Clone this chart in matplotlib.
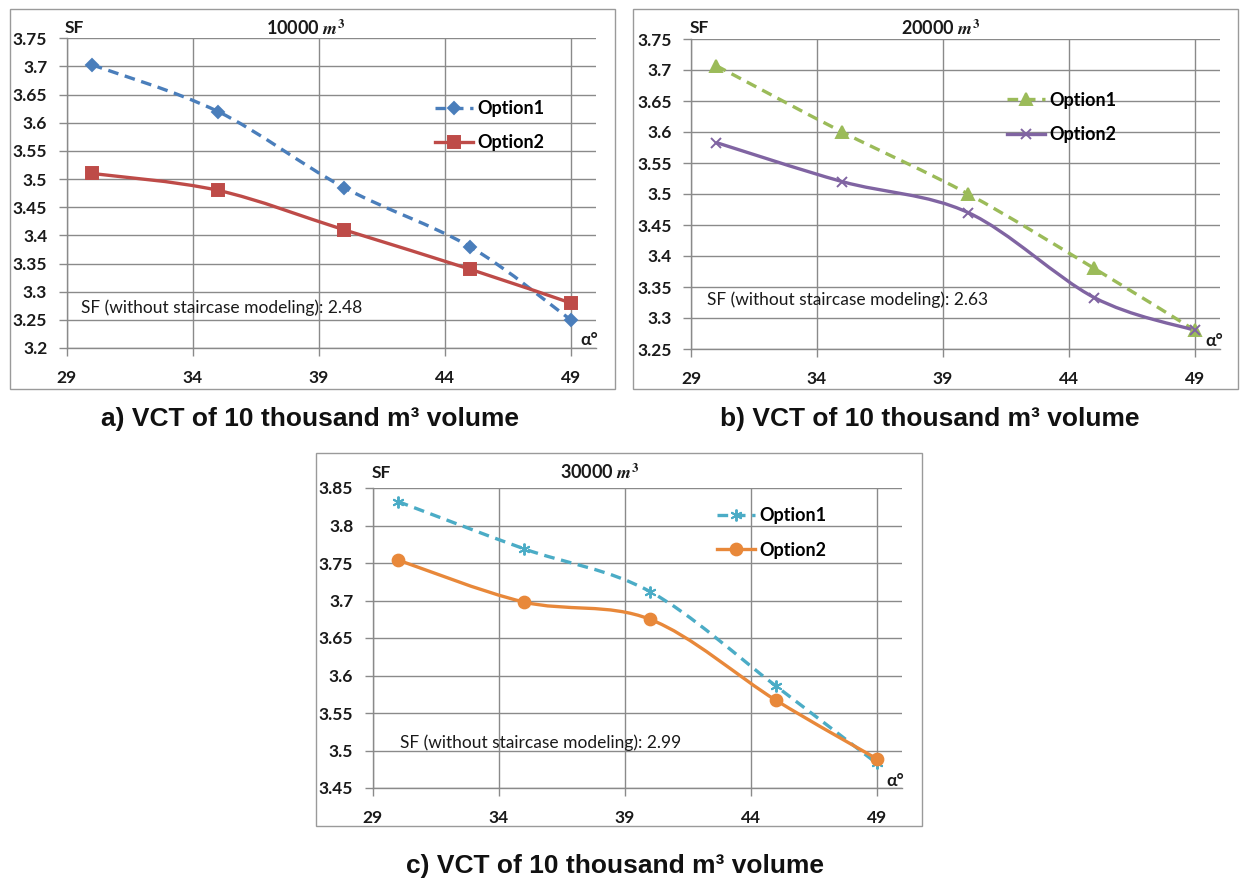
# -*- coding: utf-8 -*-
import numpy as np
import matplotlib
matplotlib.use('Agg')
import matplotlib.pyplot as plt
from matplotlib import rcParams
from matplotlib.path import Path
from matplotlib.patches import PathPatch, Rectangle
from matplotlib.lines import Line2D

rcParams['font.family'] = ['Lato', 'DejaVu Sans']
rcParams['font.weight'] = 'bold'
rcParams['mathtext.fontset'] = 'stix'

# data
alpha = [30, 35, 40, 45, 49]
x_ticks = [29, 34, 39, 44, 49]

sf_10k_opt1 = [3.703, 3.620, 3.485, 3.380, 3.250]
sf_10k_opt2 = [3.510, 3.480, 3.410, 3.340, 3.280]
sf_20k_opt1 = [3.707, 3.600, 3.500, 3.380, 3.280]
sf_20k_opt2 = [3.583, 3.520, 3.470, 3.333, 3.280]
sf_30k_opt1 = [3.832, 3.769, 3.712, 3.586, 3.483]
sf_30k_opt2 = [3.754, 3.698, 3.675, 3.567, 3.489]

y_ticks_10k = [3.2, 3.25, 3.3, 3.35, 3.4, 3.45, 3.5, 3.55, 3.6, 3.65, 3.7, 3.75]
y_ticks_20k = [3.25, 3.3, 3.35, 3.4, 3.45, 3.5, 3.55, 3.6, 3.65, 3.7, 3.75]
y_ticks_30k = [3.45, 3.5, 3.55, 3.6, 3.65, 3.7, 3.75, 3.8, 3.85]

no_stair_sf = ['2.48', '2.63', '2.99']
volumes = ['10000', '20000', '30000']
captions = ['a) VCT of 10 thousand m\u00b3 volume',
            'b) VCT of 10 thousand m\u00b3 volume',
            'c) VCT of 10 thousand m\u00b3 volume']

W, H = 1242, 881
GRID = '#8a8a8a'
TXT = '#1a1a1a'
DASH = (0, (3.2, 2.0))


def smooth_path(xs, ys):
    """Excel-like smoothed line: bezier segments through every point"""
    pts = np.column_stack([xs, ys]).astype(float)
    n = len(pts)
    verts = [pts[0]]
    codes = [Path.MOVETO]
    for i in range(n - 1):
        p0 = pts[max(i - 1, 0)]
        p1 = pts[i]
        p2 = pts[i + 1]
        p3 = pts[min(i + 2, n - 1)]
        verts += [p1 + (p2 - p0) / 6.0, p2 - (p3 - p1) / 6.0, p2]
        codes += [Path.CURVE4] * 3
    return Path(verts, codes)


def fig_box(x0, y0, x1, y1):
    # pixel box (top-left origin) -> figure fraction rect
    return [x0 / W, 1 - y1 / H, (x1 - x0) / W, (y1 - y0) / H]


def draw_panel(fig, rect, frame, yticks, series, sf_text, leg_xy, note_xy):
    # outer frame of the excel chart
    fx0, fy0, fx1, fy1 = frame
    fig.patches.append(Rectangle((fx0 / W, 1 - fy1 / H), (fx1 - fx0) / W, (fy1 - fy0) / H,
                                 transform=fig.transFigure, fill=False,
                                 edgecolor='#9a9a9a', linewidth=1.0))

    ax = fig.add_axes(fig_box(*rect))
    ax.set_xlim(29, 50)
    ax.set_ylim(yticks[0], yticks[-1])
    ax.set_xticks(x_ticks, [str(t) for t in x_ticks])
    ax.set_yticks(yticks, [f'{t:g}' for t in yticks])
    ax.grid(True, color=GRID, linewidth=1.0)
    ax.set_axisbelow(True)
    for s in ['top', 'right']:
        ax.spines[s].set_visible(False)
    for s in ['left', 'bottom']:
        ax.spines[s].set_color(GRID)
        ax.spines[s].set_linewidth(1.0)
    ax.tick_params(axis='both', direction='out', length=6, width=1.0, color=GRID,
                   labelsize=12.5, labelcolor=TXT)
    ax.tick_params(axis='x', pad=10)
    ax.tick_params(axis='y', pad=8)

    handles = []
    for ys, color, ls, marker, ms, label in series:
        ax.add_patch(PathPatch(smooth_path(alpha, ys), fill=False, edgecolor=color,
                               linewidth=2.4, linestyle=ls, capstyle='butt', zorder=3))
        ax.plot(alpha, ys, linestyle='none', marker=marker, markersize=ms,
                color=color, markeredgecolor=color, markeredgewidth=1.4, zorder=4,
                clip_on=False)
        handles.append(Line2D([], [], color=color, linewidth=2.4, linestyle=ls,
                              marker=marker, markersize=ms, markeredgewidth=1.4,
                              label=label))

    ax.legend(handles=handles, loc='upper left', bbox_to_anchor=leg_xy, frameon=False,
              borderpad=0, borderaxespad=0, handlelength=2.1, handletextpad=0.25,
              labelspacing=0.95, prop={'size': 13, 'weight': 'bold'})

    ax.text(note_xy[0], note_xy[1], f'SF (without staircase modeling): {sf_text}',
            transform=ax.transAxes, fontsize=12.5, fontweight='normal',
            va='center', ha='left', color=TXT)

    ax.text(1.005, 0.025, '\u03b1\u00b0', transform=ax.transAxes, fontsize=12.5,
            fontweight='bold', ha='right', va='center', color=TXT)
    return ax


fig = plt.figure(figsize=(W / 100, H / 100), dpi=100)

# panel a
draw_panel(fig, (66.7, 38.3, 595.9, 348), (9.5, 9, 615, 389), y_ticks_10k,
           [(sf_10k_opt1, '#4a7ebb', DASH, 'D', 6, 'Option1'),
            (sf_10k_opt2, '#be4b48', '-', 's', 8, 'Option2')],
           no_stair_sf[0], (0.696, 0.80), (0.027, 0.13))
# panel b
draw_panel(fig, (691, 39, 1220.2, 349), (633, 9, 1238, 389), y_ticks_20k,
           [(sf_20k_opt1, '#9bbb59', DASH, '^', 8, 'Option1'),
            (sf_20k_opt2, '#8064a2', '-', 'x', 7.5, 'Option2')],
           no_stair_sf[1], (0.597, 0.83), (0.030, 0.158))
# panel c
draw_panel(fig, (372.7, 488, 901.9, 788), (316, 453, 922, 826), y_ticks_30k,
           [(sf_30k_opt1, '#4bacc6', DASH, (6, 2, 0), 8.5, 'Option1'),
            (sf_30k_opt2, '#e8883a', '-', 'o', 8.5, 'Option2')],
           no_stair_sf[2], (0.651, 0.935), (0.052, 0.15))

# titles and 'SF' labels
title_pos = [(306, 28), (941, 28), (600, 472)]
sf_pos = [(65, 28), (690, 28), (372, 473)]
for vol, (tx, ty), (sx, sy) in zip(volumes, title_pos, sf_pos):
    fig.text(tx / W, 1 - ty / H, vol + r' $m^3$', fontsize=13, fontweight='bold',
             ha='center', va='center', color=TXT)
    fig.text(sx / W, 1 - sy / H, 'SF', fontsize=12.5, fontweight='bold',
             ha='left', va='center', color=TXT)

# captions under each chart
cap_pos = [(310, 419), (930, 419), (615, 866)]
for cap, (cx, cy) in zip(captions, cap_pos):
    fig.text(cx / W, 1 - cy / H, cap, fontsize=19, fontweight='bold',
             family='Liberation Sans', ha='center', va='center', color='#111111')

plt.savefig('out.png', dpi=100)
